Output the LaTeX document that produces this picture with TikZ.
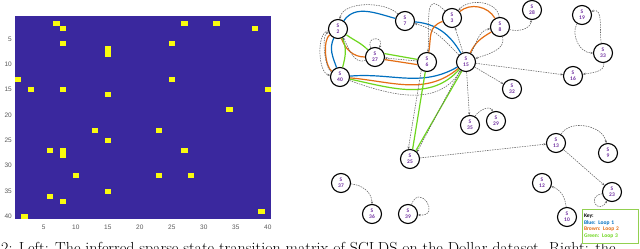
\documentclass[tikz,border=0pt]{standalone}
\usepackage{fontspec}
\usepackage{tikz}
\usetikzlibrary{arrows.meta,positioning}
\newfontfamily\calfont{Carlito}
\newfontfamily\axfont{Liberation Sans}
\definecolor{mxBlue}  {RGB}{ 58, 40,158}
\definecolor{mxYellow}{RGB}{249,251, 14}
\definecolor{mxTick}  {RGB}{ 90, 90, 90}
\definecolor{stPurple}{RGB}{112, 48,160}
\definecolor{lpBlue}  {RGB}{  0,112,192}
\definecolor{lpBrown} {RGB}{228,110, 20}
\definecolor{lpGreen} {RGB}{110,215, 30}
\definecolor{keyGreen}{RGB}{146,208, 80}
\definecolor{trGray}  {RGB}{100,100,100}

\begin{document}
\begin{tikzpicture}[x=1pt,y=-1pt,
  every node/.style={inner sep=0pt},
  hit/.style={fill=mxYellow},
  tick/.style={font=\axfont\fontsize{6.5}{7}\selectfont,text=mxTick},
  state/.style={circle,draw,line width=1.1pt,minimum size=19pt,align=center,
                font=\calfont\bfseries\fontsize{5.5}{6}\selectfont,text=stPurple},
  trans/.style={draw=trGray,dash pattern=on 1.5pt off 1pt,line width=0.55pt,
                -{Stealth[length=2.6pt,width=2.2pt]}},
  loopA/.style={draw=lpBlue,line width=1.2pt},
  loopB/.style={draw=lpBrown,line width=1.2pt},
  loopC/.style={draw=lpGreen,line width=1.2pt}
]
\path[use as bounding box,fill=white] (0,0) rectangle (640,249);
% Transition matrix
\fill[mxBlue] (15,16) rectangle (271,219);
\fill[hit] ({15+6*6.4},{16+1*5.075})  rectangle ++(6.4,5.075);
\fill[hit] ({15+26*6.4},{16+1*5.075}) rectangle ++(6.4,5.075);
\fill[hit] ({15+31*6.4},{16+1*5.075}) rectangle ++(6.4,5.075);
\fill[hit] ({15+7*6.4},{16+2*5.075})  rectangle ++(6.4,5.075);
\fill[hit] ({15+37*6.4},{16+2*5.075}) rectangle ++(6.4,5.075);
\fill[hit] ({15+7*6.4},{16+5*5.075})  rectangle ++(6.4,5.075);
\fill[hit] ({15+24*6.4},{16+5*5.075}) rectangle ++(6.4,5.075);
\fill[hit] ({15+14*6.4},{16+6*5.075}) rectangle ++(6.4,10.15);
\fill[hit] ({15+0*6.4},{16+12*5.075}) rectangle ++(6.4,5.075);
\fill[hit] ({15+24*6.4},{16+12*5.075}) rectangle ++(6.4,5.075);
\fill[hit] ({15+2*6.4},{16+14*5.075}) rectangle ++(6.4,5.075);
\fill[hit] ({15+7*6.4},{16+14*5.075}) rectangle ++(6.4,5.075);
\fill[hit] ({15+39*6.4},{16+14*5.075}) rectangle ++(6.4,5.075);
\fill[hit] ({15+14*6.4},{16+15*5.075}) rectangle ++(6.4,5.075);
\fill[hit] ({15+33*6.4},{16+18*5.075}) rectangle ++(6.4,5.075);
\fill[hit] ({15+12*6.4},{16+22*5.075}) rectangle ++(6.4,5.075);
\fill[hit] ({15+22*6.4},{16+22*5.075}) rectangle ++(6.4,5.075);
\fill[hit] ({15+14*6.4},{16+24*5.075}) rectangle ++(6.4,5.075);
\fill[hit] ({15+5*6.4},{16+26*5.075}) rectangle ++(6.4,5.075);
\fill[hit] ({15+7*6.4},{16+26*5.075}) rectangle ++(6.4,10.15);
\fill[hit] ({15+26*6.4},{16+26*5.075}) rectangle ++(6.4,5.075);
\fill[hit] ({15+9*6.4},{16+31*5.075}) rectangle ++(6.4,5.075);
\fill[hit] ({15+22*6.4},{16+31*5.075}) rectangle ++(6.4,5.075);
\fill[hit] ({15+27*6.4},{16+31*5.075}) rectangle ++(6.4,5.075);
\fill[hit] ({15+14*6.4},{16+34*5.075}) rectangle ++(6.4,5.075);
\fill[hit] ({15+5*6.4},{16+35*5.075}) rectangle ++(6.4,5.075);
\fill[hit] ({15+7*6.4},{16+36*5.075}) rectangle ++(6.4,5.075);
\fill[hit] ({15+38*6.4},{16+38*5.075}) rectangle ++(6.4,5.075);
\fill[hit] ({15+1*6.4},{16+39*5.075}) rectangle ++(6.4,5.075);
% Row ticks
\node[tick,anchor=east] (r5)  at (12,38.8)  {5};
\node[tick,anchor=east] (r10) at (12,64.2)  {10};
\node[tick,anchor=east] (r15) at (12,89.6)  {15};
\node[tick,anchor=east] (r20) at (12,115.0) {20};
\node[tick,anchor=east] (r25) at (12,140.3) {25};
\node[tick,anchor=east] (r30) at (12,165.7) {30};
\node[tick,anchor=east] (r35) at (12,191.1) {35};
\node[tick,anchor=east] (r40) at (12,216.5) {40};
% Column ticks
\node[tick] (c5)  at (43.8,227.5)  {5};
\node[tick] (c10) at (75.8,227.5)  {10};
\node[tick] (c15) at (107.8,227.5) {15};
\node[tick] (c20) at (139.8,227.5) {20};
\node[tick] (c25) at (171.8,227.5) {25};
\node[tick] (c30) at (203.8,227.5) {30};
\node[tick] (c35) at (235.8,227.5) {35};
\node[tick] (c40) at (267.8,227.5) {40};
% States
\node[state] (S2)  at (338,29)  {S\\2};
\node[state] (S7)  at (405,21)  {S\\7};
\node[state] (S3)  at (452,18)  {S\\3};
\node[state] (S8)  at (500,27)  {S\\8};
\node[state] (S28) at (532,10)  {S\\28};
\node[state] (S19) at (582,15)  {S\\19};
\node[state] (S33) at (603,53)  {S\\33};
\node[state] (S16) at (573,76)  {S\\16};
\node[state] (S32) at (512,89)  {S\\32};
\node[state] (S29) at (496,121) {S\\29};
\node[state] (S27) at (375,57)  {S\\27};
\node[state] (S6)  at (427,62)  {S\\6};
\node[state] (S15) at (466,62)  {S\\15};
\node[state] (S40) at (340,77)  {S\\40};
\node[state] (S35) at (470,125) {S\\35};
\node[state] (S25) at (410,159) {S\\25};
\node[state] (S37) at (341,183) {S\\37};
\node[state] (S36) at (372,214) {S\\36};
\node[state] (S39) at (408,214) {S\\39};
\node[state] (S13) at (556,143) {S\\13};
\node[state] (S9)  at (608,153) {S\\9};
\node[state] (S12) at (542,183) {S\\12};
\node[state] (S23) at (612,192) {S\\23};
\node[state] (S10) at (567,217) {S\\10};
% Loop 1
\draw[loopA] (S2) to[out=55,in=165] (S7);
\draw[loopA] (S7) to[out=-5,in=120] (S15);
\draw[loopA] (S15) to[out=-150,in=5] (S40);
\draw[loopA] (S40) to[out=110,in=-115] (S2);
% Loop 2
\draw[loopB] (S2) to[out=-70,in=180] (S27);
\draw[loopB] (S27.-15) -- (S6.-165);
\draw[loopB] (S6) to[out=80,in=200,looseness=1.2] (S3);
\draw[loopB] (S3) to[out=40,in=120] (S8);
\draw[loopB] (S8) to[out=-150,in=65] (S15);
\draw[loopB] (S15) to[out=-140,in=-5] (S40);
\draw[loopB] (S40) to[out=145,in=-145,looseness=0.6] (S2);
% Loop 3
\draw[loopC] (S2) to[out=-35,in=135] (S27);
\draw[loopC] (S27.20) -- (S6.165);
\draw[loopC] (S6.-100) -- (S25.75);
\draw[loopC] (S25.55) -- (S15.-115);
\draw[loopC] (S15) to[out=-132,in=-12] (S40);
\draw[loopC] (S40) to[out=75,in=-65] (S2);
% Transitions
\draw[trans] (S7) to[out=135,in=80,looseness=0.8] (S2);
\draw[trans] (S2) to[out=190,in=170,looseness=0.7] (S40);
\draw[trans] (S40) to[out=150,in=-160,looseness=0.5] (S2);
\draw[trans] (S27) to[out=115,in=65,looseness=4] (S27);
\draw[trans] (S27) to[out=200,in=-60] (S2);
\draw[trans] (S6) -- (S27);
\draw[trans] (S15) to[out=135,in=-15] (S7);
\draw[trans] (S3) to[out=135,in=85,looseness=1.8] (S6);
\draw[trans] (S8) to[out=95,in=50] (S3);
\draw[trans] (S15) -- (S3);
\draw[trans] (S15) to[out=60,in=190] (S8);
\draw[trans] (S8) to[out=-75,in=20] (S15);
\draw[trans] (S8) to[out=-15,in=-95] (S28);
\draw[trans] (S15) -- (S16);
\draw[trans] (S15) -- (S32);
\draw[trans] (S15) -- (S35);
\draw[trans] (S35) to[out=60,in=110] (S29);
\draw[trans] (S6.-125) -- (S25.100);
\draw[trans] (S15.-125) -- (S25.45);
\draw[trans] (S40) to[out=-20,in=-122] (S15);
\draw[trans] (S25) -- (S13);
\draw[trans] (S13) to[out=60,in=100] (S9);
\draw[trans] (S13) -- (S23);
\draw[trans] (S23) to[out=190,in=240,looseness=5] (S23);
\draw[trans] (S10) to[out=95,in=-20] (S12);
\draw[trans] (S37) to[out=-5,in=90] (S36);
\draw[trans] (S39) to[out=70,in=-5,looseness=5] (S39);
\draw[trans] (S33) to[out=100,in=20] (S19);
\draw[trans] (S19) to[out=-120,in=180] (S33);
\draw[trans] (S33) to[out=-85,in=10] (S16);
% Caption line
\node[anchor=base west,font=\fontsize{16}{19}\selectfont] (cap) at (1,253.5)
  {2: Left: The inferred sparse state transition matrix of SCLDS on the Dollar dataset. Right: the};
% Key
\node[draw=keyGreen,line width=0.8pt,fill=white,minimum width=56pt,minimum height=34pt,
      text width=52pt,align=left,font=\calfont\bfseries\fontsize{5.5}{6.7}\selectfont]
  (key) at (610,226)
  {Key:\\ \textcolor{lpBlue}{Blue: Loop 1}\\ \textcolor{lpBrown}{Brown: Loop 2}\\
   \textcolor{lpGreen}{Green: Loop 3}};
\end{tikzpicture}
\end{document}
